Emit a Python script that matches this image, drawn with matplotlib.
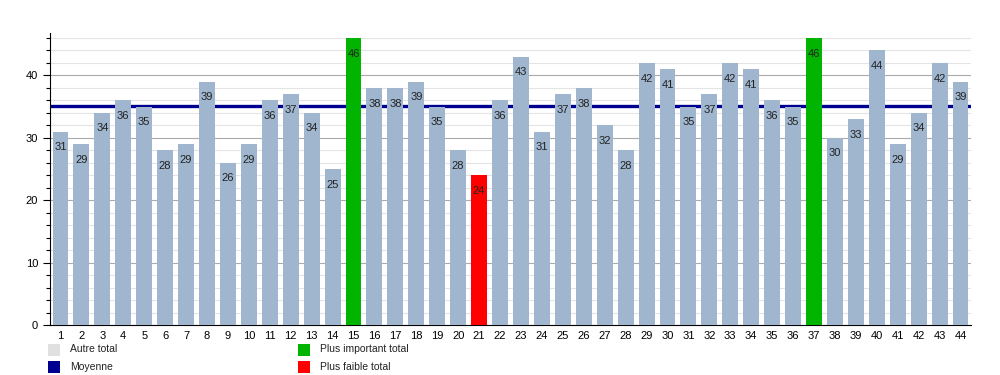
import numpy as np
import matplotlib
matplotlib.use("Agg")
import matplotlib.pyplot as plt
from matplotlib.patches import Rectangle

# data
categories = [str(i) for i in range(1, 45)]
values = [31, 29, 34, 36, 35, 28, 29, 39, 26, 29, 36, 37, 34, 25, 46, 38, 38, 39, 35, 28, 24, 36,
          43, 31, 37, 38, 32, 28, 42, 41, 35, 37, 42, 41, 36, 35, 46, 30, 33, 44, 29, 34, 42, 39]
legend_labels = ["Autre total", "Moyenne", "Plus important total", "Plus faible total"]

base_col = "#9fb6ce"
max_col = "#00b400"
min_col = "#ff0000"
mean_col = "#000090"
other_col = "#e0e0e0"

plt.rcParams['font.family'] = ['Liberation Sans', 'DejaVu Sans']

vmax = max(values)
vmin = min(values)
colors = []
for v in values:
    if v == vmax:
        colors.append(max_col)
    elif v == vmin:
        colors.append(min_col)
    else:
        colors.append(base_col)
mean = np.mean(values)

fig = plt.figure(figsize=(10, 3.75), dpi=100)
ax = fig.add_axes([0.05, 0.1333, 0.921, 0.7787])

x = np.arange(len(values))
ax.bar(x, values, width=0.76, color=colors, zorder=3)
ax.axhline(mean, color=mean_col, lw=2.4, zorder=2)

for xi, v in zip(x, values):
    ax.text(xi, v - 2.5, str(v), ha="center", va="center", fontsize=8, color="#222222", zorder=4)

ax.set_xlim(-0.5, len(values) - 0.5)
ax.set_ylim(0, 46.8)
ax.set_xticks(x)
ax.set_xticklabels(categories, fontsize=8)
ax.set_yticks(np.arange(0, 41, 10))
ax.set_yticks(np.arange(0, 47, 2), minor=True)
ax.tick_params(axis="y", which="major", labelsize=8, length=5, width=0.8)
ax.tick_params(axis="y", which="minor", length=3, width=0.8)
ax.tick_params(axis="x", length=0, pad=4)
ax.grid(axis="y", which="major", color="#aaaaaa", lw=0.8, zorder=0)
ax.grid(axis="y", which="minor", color="#e4e4e4", lw=0.8, zorder=0)
ax.set_axisbelow(True)
for s in ["top", "right"]:
    ax.spines[s].set_visible(False)
ax.spines["left"].set_linewidth(0.8)
ax.spines["bottom"].set_linewidth(0.8)

# legend below the chart
leg = [(0.048, 0.932, other_col, legend_labels[0]),
       (0.048, 0.979, mean_col, legend_labels[1]),
       (0.298, 0.932, max_col, legend_labels[2]),
       (0.298, 0.979, min_col, legend_labels[3])]
for lx, ly, c, lab in leg:
    fig.patches.append(Rectangle((lx, 1 - ly - 0.016), 0.012, 0.032, transform=fig.transFigure,
                                 facecolor=c, edgecolor="none"))
    fig.text(lx + 0.022, 1 - ly, lab, fontsize=7.5, va="center", ha="left", color="#222222")

fig.savefig("out.png", dpi=100)
